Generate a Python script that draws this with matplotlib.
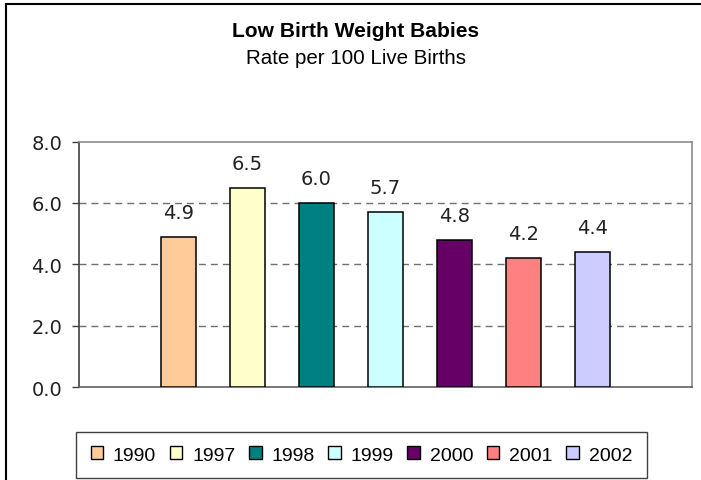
import matplotlib
matplotlib.use('Agg')
import matplotlib.pyplot as plt
from matplotlib.patches import Patch
from matplotlib.lines import Line2D
import numpy as np

years = ['1990', '1997', '1998', '1999', '2000', '2001', '2002']
rates = [4.9, 6.5, 6.0, 5.7, 4.8, 4.2, 4.4]
colors = ['#FFCC99', '#FFFFCC', '#008080', '#CCFFFF', '#660066', '#FF8080', '#CCCCFF']
yticks = [0, 2, 4, 6, 8]

W, H = 701, 481
sans = ['Liberation Sans', 'DejaVu Sans']

fig = plt.figure(figsize=(W / 100, H / 100), dpi=100)
renderer = fig.canvas.get_renderer()


def fit_width(txt, target):
    # scale the font so the text is about target pixels wide
    w = txt.get_window_extent(renderer).width
    txt.set_fontsize(txt.get_fontsize() * target / w)


# plot area in pixels
left, right, top, bottom = 79, 691.7, 142.5, 388
ax = fig.add_axes([left / W, 1 - bottom / H, (right - left) / W, (bottom - top) / H])

x = np.arange(len(years))
ax.bar(x, rates, width=0.51, color=colors, edgecolor='black', linewidth=1.1, zorder=3)

for xi, r in zip(x, rates):
    ax.annotate(f'{r:.1f}', (xi, r), xytext=(0, 13.5), textcoords='offset points',
                ha='center', va='baseline', fontsize=14, family='DejaVu Sans', color='#222222')

ax.set_xlim(-1.44, 7.444)
ax.set_ylim(0, 8)
ax.set_yticks(yticks)
ax.set_yticklabels([f'{v:.1f}' for v in yticks], fontsize=14, color='#222222')
ax.set_xticks([])
ax.tick_params(axis='y', length=5, width=1, color='#404040', pad=7)

for v in yticks[1:-1]:
    ax.axhline(v, color='#707070', linewidth=1, linestyle=(0, (5, 3.6)), zorder=1)

ax.spines['left'].set_color('#404040')
ax.spines['left'].set_linewidth(1.2)
ax.spines['bottom'].set_color('#606060')
ax.spines['bottom'].set_linewidth(1.2)
ax.spines['top'].set_color('#8c8c8c')
ax.spines['top'].set_linewidth(1.2)
ax.spines['right'].set_color('#8c8c8c')
ax.spines['right'].set_linewidth(1.2)

# titles
t1 = fig.text(356 / W, 1 - 37.3 / H, 'Low Birth Weight Babies', ha='center', va='baseline',
              fontsize=14.5, fontweight='bold', family=sans)
t2 = fig.text(356 / W, 1 - 64.3 / H, 'Rate per 100 Live Births', ha='center', va='baseline',
              fontsize=14.5, family=sans)
fit_width(t1, 246)
fit_width(t2, 220)

# legend
handles = [Patch(facecolor=c, edgecolor='black', linewidth=1.0) for c in colors]
leg = fig.legend(handles, years, loc='center', bbox_to_anchor=(361.3 / W, 1 - 456 / H),
                 ncol=len(years), prop={'family': sans, 'size': 14},
                 handlelength=0.65, handleheight=0.65, handletextpad=0.5,
                 columnspacing=0.7, borderpad=0.75, fancybox=False, framealpha=1)
leg.get_frame().set_edgecolor('#404040')
leg.get_frame().set_linewidth(1.0)

# chart area border (top and left edges visible)
fig.add_artist(Line2D([6 / W, 1], [1 - 5 / H, 1 - 5 / H], color='black', linewidth=1.5))
fig.add_artist(Line2D([6 / W, 6 / W], [0, 1 - 5 / H], color='black', linewidth=1.5))

fig.savefig('out.png', dpi=100)
